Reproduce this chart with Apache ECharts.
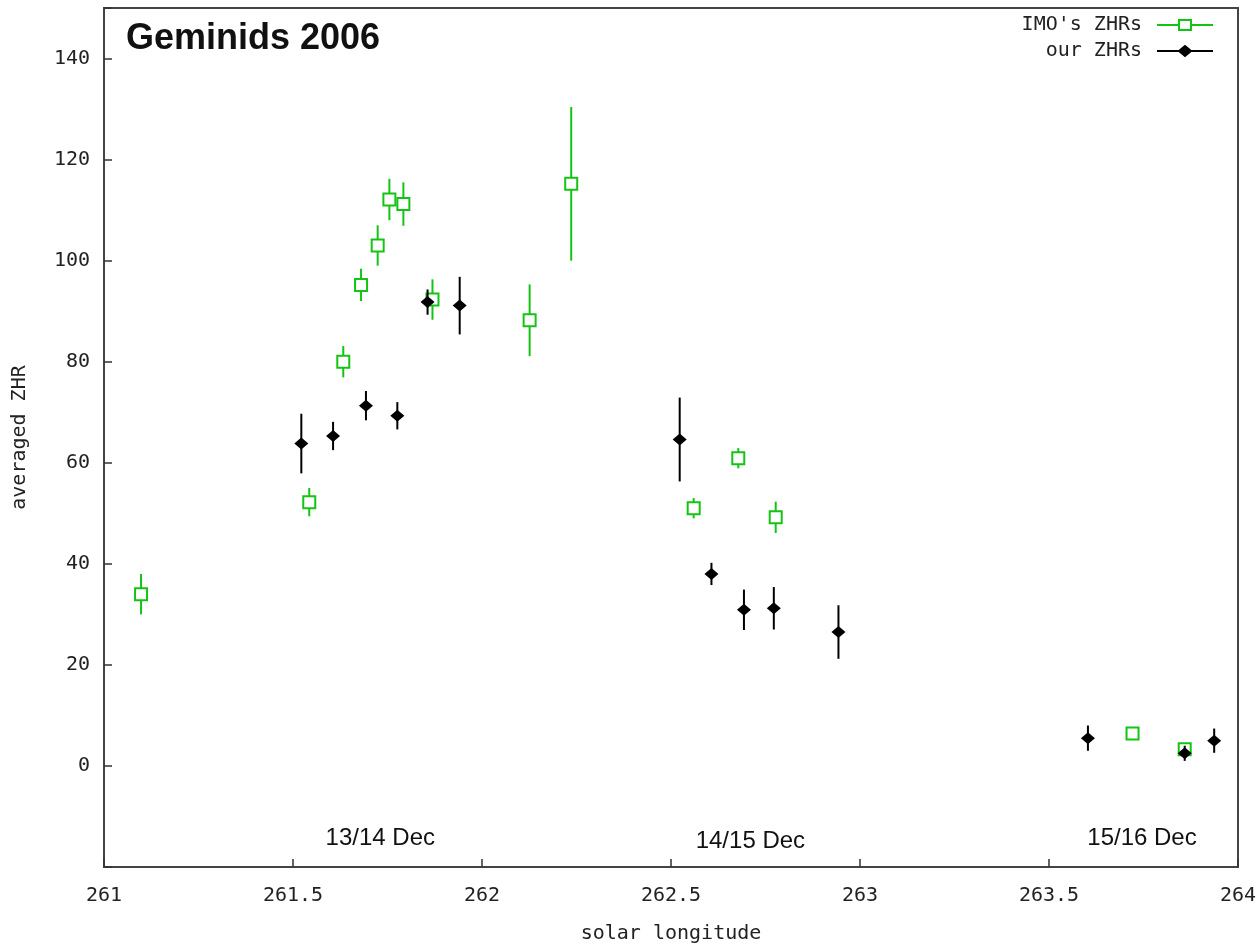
<!DOCTYPE html>
<html>
<head>
<meta charset="utf-8">
<title>Geminids 2006</title>
<script src="https://cdn.jsdelivr.net/npm/echarts@6/dist/echarts.min.js"></script>
<style>
  html, body { margin: 0; padding: 0; background: #fff; }
  #chart { width: 1260px; height: 944px; }
</style>
</head>
<body>
<div id="chart"></div>
<script>
// ── data ──────────────────────────────────────────
const imoLon = [261.098, 261.543, 261.633, 261.680, 261.724, 261.755, 261.792, 261.869, 262.126, 262.236, 262.560, 262.678, 262.777, 263.721, 263.859];
const imoZhr = [34.0, 52.2, 80.0, 95.2, 103.0, 112.1, 111.2, 92.3, 88.2, 115.2, 51.0, 60.9, 49.2, 6.4, 3.3];
const imoErr = [4.0, 2.8, 3.1, 3.2, 4.0, 4.1, 4.3, 4.0, 7.1, 15.2, 2.0, 2.0, 3.1, 0.5, 0.5];

const ourLon = [261.522, 261.606, 261.693, 261.776, 261.856, 261.941, 262.523, 262.607, 262.693, 262.772, 262.943, 263.603, 263.859, 263.937];
const ourZhr = [63.8, 65.3, 71.3, 69.3, 91.8, 91.1, 64.6, 38.0, 30.9, 31.2, 26.5, 5.5, 2.5, 5.0];
const ourErr = [5.9, 2.8, 2.9, 2.7, 2.5, 5.7, 8.3, 2.2, 4.0, 4.2, 5.3, 2.5, 1.5, 2.4];

// date labels placed at (solar longitude, ZHR)
const dateNames = ["13/14 Dec", "14/15 Dec", "15/16 Dec"];
const dateLon = [261.731, 262.71, 263.746];
const dateZhr = [-14.3, -14.9, -14.3];

const GREEN = "#14c414";
const BLACK = "#000";
const MONO = "DejaVu Sans Mono";

const chart = echarts.init(document.getElementById("chart"), null, { renderer: "canvas" });

function errBars(lon, zhr, err) {
  return lon.map((x, i) => [x, zhr[i] - err[i], zhr[i] + err[i]]);
}

function errRenderer(color) {
  return (params, api) => {
    const x = api.value(0);
    const lo = api.coord([x, api.value(1)]);
    const hi = api.coord([x, api.value(2)]);
    return {
      type: "line",
      shape: { x1: lo[0], y1: lo[1], x2: hi[0], y2: hi[1] },
      style: { stroke: color, lineWidth: 2 }
    };
  };
}

chart.setOption({
  animation: false,
  backgroundColor: "#fff",
  title: {
    text: "Geminids 2006",
    left: 121,
    top: 16,
    textStyle: { fontFamily: "Liberation Sans", fontWeight: "bold", fontSize: 36, color: "#111" }
  },
  legend: {
    orient: "vertical",
    right: 41,
    top: 10,
    align: "right",
    itemWidth: 56,
    itemHeight: 10,
    itemGap: 6,
    selectedMode: false,
    textStyle: { fontFamily: MONO, fontSize: 20, color: "#222", padding: [0, 10, 0, 0] },
    data: [
      {
        name: "IMO's ZHRs",
        icon: "path://M0,5H22M34,5H56M22,0H34V10H22Z",
        itemStyle: { color: "transparent", borderColor: GREEN, borderWidth: 2 }
      },
      {
        name: "our ZHRs",
        icon: "path://M0,5H22M34,5H56M28,0L34,5L28,10L22,5Z",
        itemStyle: { color: BLACK, borderColor: BLACK, borderWidth: 2 }
      }
    ]
  },
  grid: {
    left: 104, right: 22, top: 8, bottom: 77,
    outerBoundsMode: "none",
    show: true, borderColor: "#444", borderWidth: 2, backgroundColor: "#fff"
  },
  xAxis: {
    type: "value",
    min: 261, max: 264, interval: 0.5,
    name: "solar longitude",
    nameLocation: "middle",
    nameGap: 57,
    nameTextStyle: { fontFamily: MONO, fontSize: 20, color: "#222" },
    axisLine: { show: true, onZero: false, lineStyle: { color: "#444", width: 2 } },
    axisTick: { inside: true, length: 8, lineStyle: { color: "#333", width: 1.5 } },
    axisLabel: { margin: 19, fontFamily: MONO, fontSize: 20, color: "#222" },
    splitLine: { show: false }
  },
  yAxis: {
    type: "value",
    min: -20, max: 150, interval: 20,
    name: "averaged ZHR",
    nameLocation: "middle",
    nameGap: 74,
    nameTextStyle: { fontFamily: MONO, fontSize: 20, color: "#222" },
    axisLine: { show: true, onZero: false, lineStyle: { color: "#444", width: 2 } },
    axisTick: { inside: true, length: 8, lineStyle: { color: "#333", width: 1.5 } },
    axisLabel: {
      margin: 14, fontFamily: MONO, fontSize: 20, color: "#222",
      formatter: v => (v < 0 || v > 140 ? "" : String(v))
    },
    splitLine: { show: false }
  },
  series: [
    {
      name: "IMO err",
      type: "custom",
      renderItem: errRenderer(GREEN),
      encode: { x: 0, y: [1, 2] },
      data: errBars(imoLon, imoZhr, imoErr),
      z: 2
    },
    {
      name: "IMO's ZHRs",
      type: "scatter",
      symbol: "rect",
      symbolSize: [12, 12],
      itemStyle: { color: "#fff", borderColor: GREEN, borderWidth: 2, opacity: 1 },
      data: imoLon.map((x, i) => [x, imoZhr[i]]),
      z: 3
    },
    {
      name: "our err",
      type: "custom",
      renderItem: errRenderer(BLACK),
      encode: { x: 0, y: [1, 2] },
      data: errBars(ourLon, ourZhr, ourErr),
      z: 4
    },
    {
      name: "our ZHRs",
      type: "scatter",
      symbol: "diamond",
      symbolSize: [14, 12],
      itemStyle: { color: BLACK, opacity: 1 },
      data: ourLon.map((x, i) => [x, ourZhr[i]]),
      z: 5
    },
    {
      name: "dates",
      type: "scatter",
      symbolSize: 0,
      silent: true,
      itemStyle: { opacity: 1 },
      label: {
        show: true,
        position: "inside",
        formatter: p => p.name,
        fontFamily: "Liberation Sans",
        fontSize: 24,
        color: "#111"
      },
      data: dateNames.map((n, i) => ({ name: n, value: [dateLon[i], dateZhr[i]] })),
      z: 6
    }
  ]
});
</script>
</body>
</html>
